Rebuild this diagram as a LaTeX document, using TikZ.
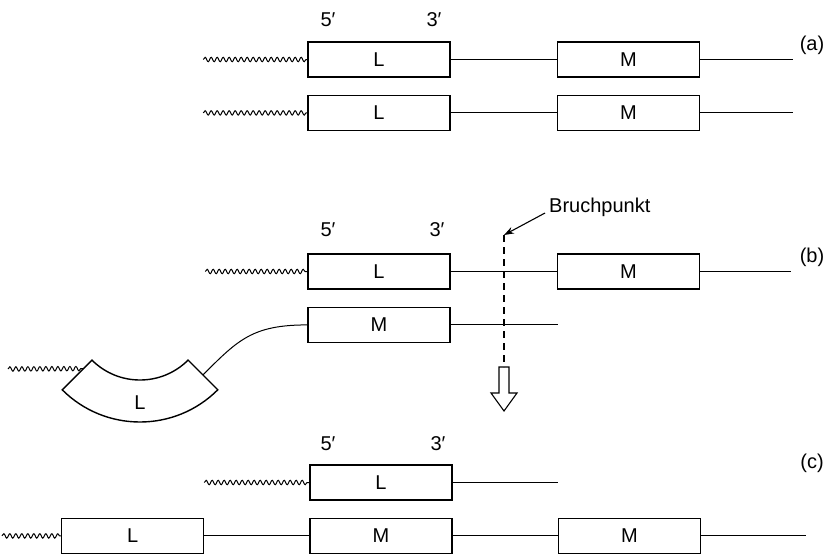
\documentclass[tikz,border=0pt]{standalone}
\usepackage{fontspec}
\setmainfont{Liberation Sans}
\usetikzlibrary{arrows.meta,positioning,decorations.pathmorphing}

\begin{document}
\begin{tikzpicture}[
        x=1pt, y=-1pt,
        node distance=106pt,
        every node/.style={font=\fontsize{20}{23}\selectfont, inner sep=0pt},
        box/.style={draw, line width=1.4pt, minimum width=142pt, minimum height=35pt},
        strand/.style={line width=1pt},
        wavy/.style={line width=1pt, decorate, decoration={snake, segment length=6pt, amplitude=2.2pt}},
        cut/.style={line width=1.1pt, dash pattern=on 7pt off 5pt},
        arrow/.style={-{Stealth[length=10pt, width=7pt]}, line width=1.1pt}
    ]
        \useasboundingbox (0,0) rectangle (837,555);

        \node[box] (La1) at (379,59.5) {L};
        \node[box, right=of La1] (Ma1) {M};
        \node[box, below=17pt of La1] (La2) {L};
        \node[box, below=17pt of Ma1] (Ma2) {M};
        \node (fiveA) at (328,20) {5′};
        \node (threeA) at (434,20) {3′};
        \node (tagA) at (812,45) {(a)};
        \coordinate (wa1) at ([xshift=-104pt]La1.west);
        \coordinate (wa2) at ([xshift=-104pt]La2.west);
        \coordinate (ea1) at ([xshift=93pt]Ma1.east);
        \coordinate (ea2) at ([xshift=93pt]Ma2.east);

        \draw[wavy] (wa1) -- (La1);
        \draw[strand] (La1) -- (Ma1);
        \draw[strand] (Ma1) -- (ea1);
        \draw[wavy] (wa2) -- (La2);
        \draw[strand] (La2) -- (Ma2);
        \draw[strand] (Ma2) -- (ea2);

        \node[box] (Lb1) at (379,271.5) {L};
        \node[box, right=of Lb1] (Mb1) {M};
        \node[box, below=17pt of Lb1] (Mb2) {M};
        \node (fiveB) at (328,230) {5′};
        \node (threeB) at (437,230) {3′};
        \node (tagB) at (812,257) {(b)};
        \coordinate (wb1) at ([xshift=-102pt]Lb1.west);
        \coordinate (eb1) at ([xshift=91pt]Mb1.east);
        \coordinate (eb2) at ([xshift=107pt]Mb2.east);

        \draw[wavy] (wb1) -- (Lb1);
        \draw[strand] (Lb1) -- (Mb1);
        \draw[strand] (Mb1) -- (eb1);
        \draw[strand] (Mb2) -- (eb2);

        \coordinate (hub) at (140,312);
        \draw[line width=1.4pt] (hub) ++(45:68) arc[start angle=45, end angle=135, radius=68]
            -- ++(135:42) arc[start angle=135, end angle=45, radius=110] -- cycle;
        \node (Lbent) at ([yshift=-91pt]hub) {L};
        \path (hub) ++(135:80) coordinate (bentL);
        \path (hub) ++(45:89) coordinate (bentR);
        \coordinate (wbent) at (8,369);
        \draw[wavy] (wbent) -- (bentL);
        \draw[strand] (bentR) .. controls +(35,-35) and +(-55,0) .. (Mb2.west);

        \coordinate (bp) at (504,235);
        \coordinate (bpend) at (504,367);
        \node[anchor=west] (bruch) at (549,207) {Bruchpunkt};
        \draw[arrow] ([xshift=-4pt, yshift=-6pt]bruch.west) -- (bp);
        \draw[cut] (bp) -- (bpend);
        \draw[line width=1.1pt] (bpend) ++(-5,0) -- ++(0,26) -- ++(-8,0) -- ++(13,18)
            -- ++(13,-18) -- ++(-8,0) -- ++(0,-26) -- cycle;

        \node[box] (Lc1) at (381,482.5) {L};
        \node[box, below=17pt of Lc1] (Mc2) {M};
        \node[box, right=105pt of Mc2] (Mc3) {M};
        \node[box, left=105pt of Mc2] (Lc2) {L};
        \node (fiveC) at (328,444) {5′};
        \node (threeC) at (438,444) {3′};
        \node (tagC) at (812,463) {(c)};
        \coordinate (wc1) at ([xshift=-105pt]Lc1.west);
        \coordinate (ec1) at ([xshift=105pt]Lc1.east);
        \coordinate (wc2) at ([xshift=-59pt]Lc2.west);
        \coordinate (ec2) at ([xshift=105pt]Mc3.east);

        \draw[wavy] (wc1) -- (Lc1);
        \draw[strand] (Lc1) -- (ec1);
        \draw[wavy] (wc2) -- (Lc2);
        \draw[strand] (Lc2) -- (Mc2);
        \draw[strand] (Mc2) -- (Mc3);
        \draw[strand] (Mc3) -- (ec2);
    \end{tikzpicture}
\end{document}
